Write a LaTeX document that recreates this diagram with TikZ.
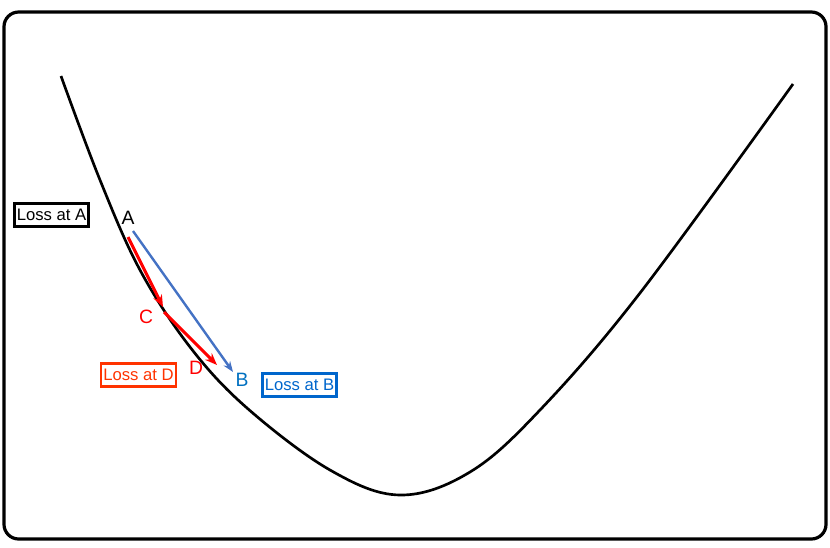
\documentclass[tikz,border=0pt]{standalone}
\usepackage{fontspec}
\setmainfont{Liberation Sans}
\usetikzlibrary{arrows.meta}
\definecolor{myred}{RGB}{255,0,0}
\definecolor{boxred}{RGB}{255,51,0}
\definecolor{arrblue}{RGB}{68,114,196}
\definecolor{lblblue}{RGB}{0,112,192}
\definecolor{boxblue}{RGB}{0,102,204}
\tikzset{
  lossbox/.style={draw, line width=2pt, inner xsep=1.8pt, inner ysep=2pt, font=\fontsize{12.5}{14}\selectfont, minimum height=17pt},
  ptlabel/.style={font=\fontsize{14.5}{16}\selectfont, inner sep=0pt},
  redarrow/.style={draw=myred, line width=2.2pt, -{Stealth[length=9pt,width=7pt]}},
  bluearrow/.style={draw=arrblue, line width=1.8pt, -{Stealth[length=8pt,width=6pt]}}
}
\begin{document}
\begin{tikzpicture}[x=0.75pt,y=-0.75pt]
\useasboundingbox (0,0) rectangle (830,547);
\draw[line width=2.4pt, rounded corners=11pt] (4,12) rectangle (826,539);
% loss curve
\draw[line width=2pt] plot[smooth, tension=0.6] coordinates {
 (61,76) (100,180) (140,270) (190,347) (247,408) (330,470) (400,495)
 (470,472) (540,410) (640,293) (793,84)};
% point labels
\node[ptlabel] (A) at (128,218) {A};
\node[ptlabel, text=myred] (C) at (146,317) {C};
\node[ptlabel, text=myred] (D) at (196,368) {D};
\node[ptlabel, text=lblblue] (B) at (242,380) {B};
% boxes
\node[lossbox] (LA) at (51.5,215) {Loss at A};
\node[lossbox, draw=boxred, text=boxred] (LD) at (138.5,375) {Loss at D};
\node[lossbox, draw=boxblue, text=boxblue] (LB) at (299.5,385) {Loss at B};
% step coordinates
\coordinate (a1) at (128,237);
\coordinate (c1) at (163,307);
\coordinate (c2) at (164,312);
\coordinate (d1) at (217,365);
\coordinate (a2) at (133,231);
\coordinate (b1) at (233,372);
\draw[bluearrow] (a2) -- (b1);
\draw[redarrow] (a1) -- (c1);
\draw[redarrow] (c2) -- (d1);
\end{tikzpicture}
\end{document}
